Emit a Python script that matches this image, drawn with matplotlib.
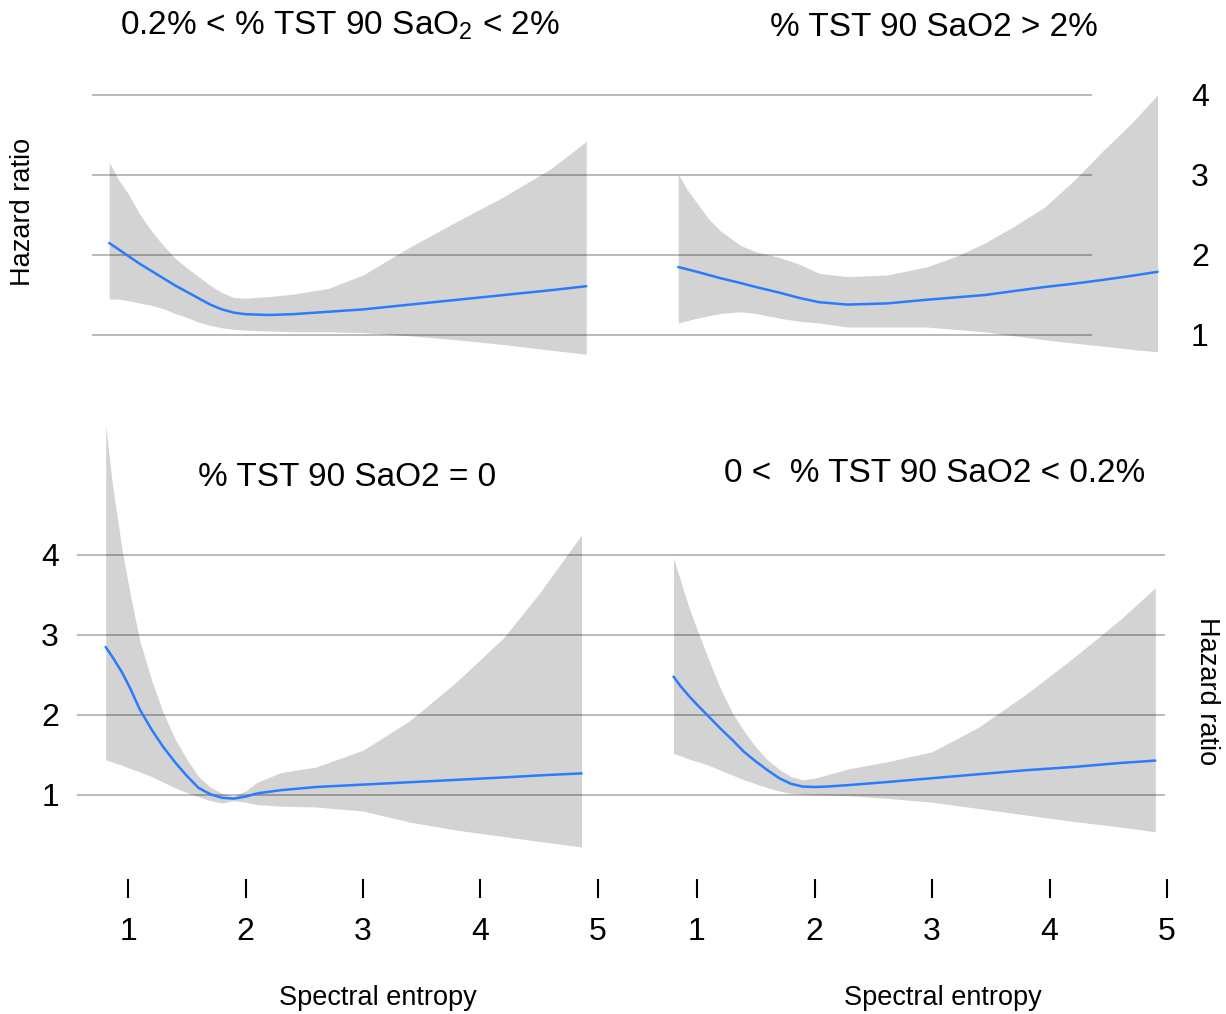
import matplotlib.pyplot as plt

plt.rcParams['font.family'] = ['Liberation Sans', 'DejaVu Sans']
plt.rcParams['mathtext.fontset'] = 'custom'
plt.rcParams['mathtext.rm'] = 'Liberation Sans'
plt.rcParams['mathtext.default'] = 'regular'

# Hazard ratio vs spectral entropy, one panel per % TST 90 SaO2 group
# 0.2% < %TST90 < 2%
mid_x = [0.84, 0.92, 1.0, 1.1, 1.2, 1.3, 1.4, 1.5, 1.6, 1.7, 1.8, 1.9, 2.0,
         2.2, 2.4, 2.7, 3.0, 3.4, 3.8, 4.2, 4.6, 4.9]
mid_hr = [2.15, 2.07, 1.99, 1.89, 1.80, 1.71, 1.62, 1.54, 1.46, 1.38, 1.32, 1.28, 1.26,
          1.25, 1.26, 1.29, 1.32, 1.38, 1.44, 1.50, 1.56, 1.61]
mid_lo = [1.45, 1.45, 1.43, 1.40, 1.37, 1.33, 1.27, 1.22, 1.16, 1.12, 1.09, 1.07, 1.06,
          1.05, 1.04, 1.04, 1.03, 0.99, 0.94, 0.88, 0.81, 0.76]
mid_hi = [3.16, 2.94, 2.77, 2.51, 2.30, 2.12, 1.96, 1.84, 1.73, 1.62, 1.53, 1.47, 1.46,
          1.48, 1.51, 1.58, 1.75, 2.10, 2.42, 2.73, 3.08, 3.42]

# %TST90 > 2%
high_x = [0.84, 0.92, 1.0, 1.1, 1.2, 1.37, 1.5, 1.7, 1.88, 2.04, 2.28, 2.62, 2.95,
          3.2, 3.45, 3.7, 3.96, 4.2, 4.46, 4.7, 4.92]
high_hr = [1.85, 1.82, 1.79, 1.75, 1.71, 1.65, 1.60, 1.53, 1.46, 1.41, 1.38, 1.395, 1.44,
           1.47, 1.50, 1.55, 1.60, 1.64, 1.69, 1.74, 1.79]
high_lo = [1.15, 1.18, 1.21, 1.24, 1.27, 1.29, 1.27, 1.21, 1.17, 1.15, 1.10, 1.10, 1.10,
           1.07, 1.04, 0.99, 0.94, 0.90, 0.86, 0.82, 0.79]
high_hi = [3.01, 2.81, 2.65, 2.45, 2.30, 2.12, 2.04, 1.97, 1.88, 1.77, 1.73, 1.75, 1.85,
           1.98, 2.15, 2.36, 2.60, 2.92, 3.31, 3.65, 4.0]

# %TST90 = 0
zero_x = [0.81, 0.87, 0.95, 1.02, 1.1, 1.2, 1.3, 1.4, 1.5, 1.6, 1.7, 1.8, 1.9, 2.0,
          2.1, 2.3, 2.6, 3.0, 3.4, 3.8, 4.2, 4.5, 4.86]
zero_hr = [2.85, 2.72, 2.53, 2.33, 2.07, 1.82, 1.60, 1.41, 1.24, 1.09, 1.01, 0.965, 0.955, 0.98,
           1.02, 1.06, 1.10, 1.13, 1.16, 1.19, 1.22, 1.245, 1.27]
zero_lo = [1.44, 1.41, 1.37, 1.33, 1.29, 1.23, 1.16, 1.09, 1.03, 0.98, 0.93, 0.90, 0.93, 0.91,
           0.88, 0.86, 0.85, 0.80, 0.66, 0.56, 0.48, 0.42, 0.35]
zero_hi = [5.62, 4.85, 4.06, 3.50, 2.93, 2.44, 2.03, 1.70, 1.45, 1.23, 1.10, 1.02, 0.985, 1.05,
           1.16, 1.28, 1.35, 1.56, 1.93, 2.42, 2.97, 3.52, 4.25]

# 0 < %TST90 < 0.2%
low_x = [0.80, 0.86, 0.93, 1.0, 1.1, 1.2, 1.3, 1.4, 1.5, 1.6, 1.7, 1.8, 1.9, 2.0,
         2.1, 2.3, 2.6, 3.0, 3.4, 3.8, 4.2, 4.6, 4.9]
low_hr = [2.48, 2.36, 2.24, 2.13, 1.98, 1.83, 1.69, 1.54, 1.42, 1.31, 1.21, 1.14, 1.105, 1.10,
          1.105, 1.125, 1.16, 1.21, 1.26, 1.31, 1.35, 1.40, 1.43]
low_lo = [1.52, 1.49, 1.45, 1.42, 1.37, 1.31, 1.25, 1.19, 1.14, 1.09, 1.05, 1.02, 1.01, 1.0,
          1.0, 0.99, 0.96, 0.91, 0.83, 0.75, 0.67, 0.60, 0.54]
low_hi = [3.96, 3.68, 3.35, 3.07, 2.69, 2.33, 2.03, 1.80, 1.60, 1.44, 1.32, 1.23, 1.19, 1.21,
          1.25, 1.33, 1.41, 1.54, 1.85, 2.26, 2.71, 3.19, 3.59]

hr_ticks = [1, 2, 3, 4]
entropy_ticks = [1, 2, 3, 4, 5]

W, H = 1226, 1014
fig = plt.figure(figsize=(W / 100, H / 100), dpi=100)

PX_X = 117.5   # pixels per entropy unit
PX_Y = 80.0    # pixels per hazard-ratio unit


def panel(x0, y0, x1, y1, x_one, y_one):
    # axes placed in pixel units, with entropy 1 at x_one and HR 1 at y_one
    ax = fig.add_axes([x0 / W, 1 - y1 / H, (x1 - x0) / W, (y1 - y0) / H])
    ax.set_xlim(1 + (x0 - x_one) / PX_X, 1 + (x1 - x_one) / PX_X)
    ax.set_ylim(1 + (y_one - y1) / PX_Y, 1 + (y_one - y0) / PX_Y)
    ax.patch.set_alpha(0)
    for s in ax.spines.values():
        s.set_visible(False)
    ax.set_xticks([])
    ax.set_yticks([])
    return ax


def draw(ax, x, hr, lo, hi, gx0, gx1):
    ax.fill_between(x, lo, hi, color='#d3d3d3', lw=0, zorder=1)
    ax.hlines(hr_ticks, gx0, gx1, transform=ax.get_yaxis_transform(),
              color='k', alpha=0.35, lw=1.1, zorder=2)
    ax.plot(x, hr, color='#2a7bff', lw=1.8, zorder=3,
            solid_joinstyle='round', solid_capstyle='round')


ax_tl = panel(70, 60, 610, 370, 128, 335)
ax_tr = panel(610, 60, 1180, 370, 697, 335)
ax_bl = panel(70, 410, 610, 898, 128, 795)
ax_br = panel(610, 410, 1180, 898, 697, 795)

draw(ax_tl, mid_x, mid_hr, mid_lo, mid_hi, (92 - 70) / 540, 1)
draw(ax_tr, high_x, high_hr, high_lo, high_hi, 0, (1092 - 610) / 570)
draw(ax_bl, zero_x, zero_hr, zero_lo, zero_hi, (77 - 70) / 540, 1)
draw(ax_br, low_x, low_hr, low_lo, low_hi, 0, (1165 - 610) / 570)

# y tick labels: right side on top row, left side on bottom row
ax_tr.yaxis.tick_right()
ax_tr.set_yticks(hr_ticks)
ax_tr.tick_params(axis='y', length=0, pad=8, labelsize=23)
ax_bl.set_yticks(hr_ticks)
ax_bl.tick_params(axis='y', length=0, pad=8, labelsize=23)

# entropy ticks under the bottom row
for ax in (ax_bl, ax_br):
    ax.set_xticks(entropy_ticks)
    ax.tick_params(axis='x', direction='in', length=14, width=1.5,
                   color='black', pad=14, labelsize=23)

title_kw = dict(ha='center', va='center', fontsize=24)
fig.text(340 / W, 1 - 26 / H, r'0.2% < % TST 90 SaO$_2$ < 2%', **title_kw)
fig.text(934 / W, 1 - 27 / H, '% TST 90 SaO2 > 2%', **title_kw)
fig.text(347 / W, 1 - 477 / H, '% TST 90 SaO2 = 0', **title_kw)
fig.text(935 / W, 1 - 473 / H, '0 <  % TST 90 SaO2 < 0.2%', **title_kw)

fig.text(23 / W, 1 - 212 / H, 'Hazard ratio', rotation=90,
         ha='center', va='center', fontsize=19.5)
fig.text(1207 / W, 1 - 691 / H, 'Hazard ratio', rotation=270,
         ha='center', va='center', fontsize=19.5)
fig.text(378 / W, 1 - 998 / H, 'Spectral entropy', ha='center', va='center', fontsize=19.5)
fig.text(943 / W, 1 - 998 / H, 'Spectral entropy', ha='center', va='center', fontsize=19.5)

fig.savefig('out.png', dpi=100, facecolor='white')
